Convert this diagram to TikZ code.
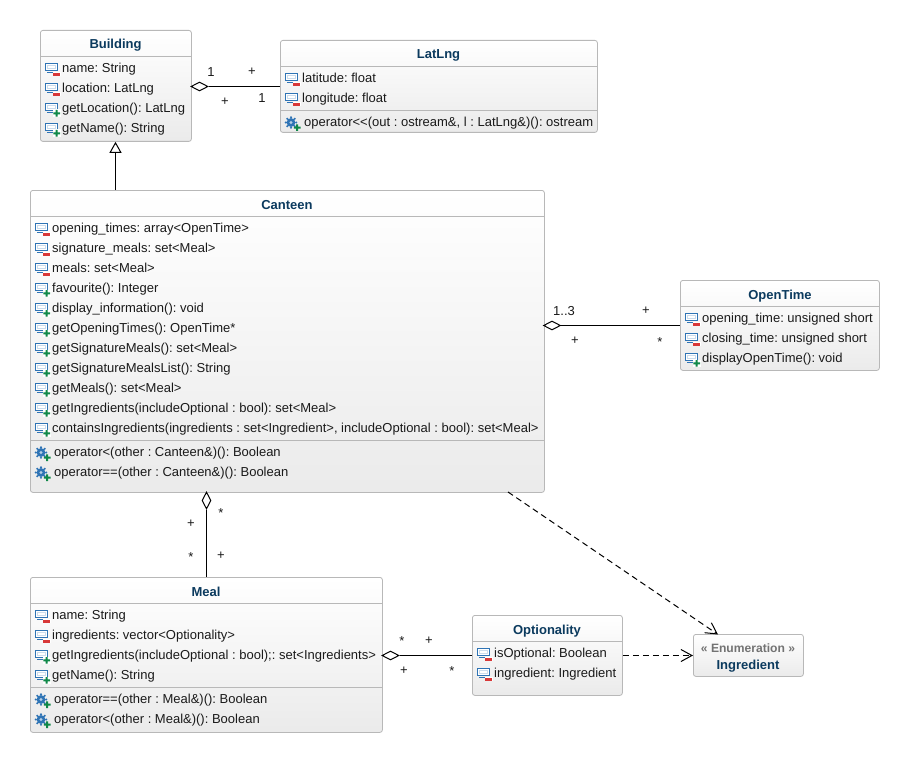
\documentclass[tikz,border=0pt]{standalone}
\usepackage{fontspec}
\setmainfont{Liberation Sans}
\frenchspacing
\usetikzlibrary{arrows.meta,shapes.geometric}
\definecolor{titlec}{HTML}{0B3A5E}
\definecolor{edgec}{HTML}{B8B8B8}
\definecolor{iconb}{HTML}{2F74B5}
\definecolor{iconr}{HTML}{D83838}
\definecolor{icong}{HTML}{108848}
\definecolor{txtc}{HTML}{1A1A1A}
\tikzset{x=1pt,y=-1pt,
 umlbox/.style={draw=edgec,line width=0.8pt,rounded corners=2.5pt,top color=white,bottom color=black!8,shading angle=0},
 ttl/.style={font=\fontsize{13}{14}\selectfont\bfseries,text=titlec,inner sep=0pt,anchor=base},
 mem/.style={font=\fontsize{13}{14}\selectfont,text=txtc,inner sep=0pt,anchor=base west},
 mult/.style={font=\fontsize{13}{14}\selectfont,text=txtc,inner sep=0pt,anchor=center},
 conn/.style={draw=black,line width=1pt},
 sep/.style={draw=edgec,line width=0.8pt},
 dia/.style={diamond,draw=black,fill=white,line width=1pt,aspect=2,inner sep=0pt,minimum width=17pt,minimum height=9pt},
}
\newcommand{\fld}[2]{%
 \begin{scope}[shift={(#1,#2)}]
 \draw[iconb,fill=white,line width=1pt] (-5.5,-4.5) rectangle (6,2.8);
 \draw[iconb!25,line width=0.7pt] (-3.5,-2.5) rectangle (4,0.8);
 \draw[iconb,line width=1pt] (-4,4.6)--(2.5,4.6);
 \end{scope}}
\newcommand{\minusmk}[2]{\fill[white] (#1+1.5,#2+4.2) rectangle (#1+9.5,#2+8.2);\fill[iconr] (#1+2,#2+4.8) rectangle (#1+9,#2+7.6);}
\newcommand{\plusmk}[2]{\fill[white] (#1+1.5,#2+1.5) rectangle (#1+9.5,#2+9.2);\fill[icong] (#1+2.3,#2+4.3) rectangle (#1+9,#2+6.3) (#1+4.65,#2+2) rectangle (#1+6.65,#2+8.7);}
\newcommand{\priv}[2]{\fld{#1}{#2}\minusmk{#1}{#2}}
\newcommand{\publ}[2]{\fld{#1}{#2}\plusmk{#1}{#2}}
\newcommand{\gearic}[2]{%
 \foreach \a in {0,45,...,315}{\fill[iconb] (#1-1,#2+0.5) ++(\a:5.2) circle (1.2);}
 \fill[iconb] (#1-1,#2+0.5) circle (4.4);
 \fill[iconb!35] (#1-1,#2+0.5) circle (1.6);
 \fill[icong] (#1+1.8,#2+4.6) rectangle (#1+8.5,#2+6.6) (#1+4.15,#2+2.3) rectangle (#1+6.15,#2+9);}
\begin{document}
\begin{tikzpicture}
\useasboundingbox (0,0) rectangle (909,762);
\fill[white] (0,0) rectangle (909,762);
% Boxes
\node[umlbox,minimum width=151pt,minimum height=111pt,inner sep=0pt,anchor=north west] (building) at (40,30) {};
\node[umlbox,minimum width=317pt,minimum height=92pt,inner sep=0pt,anchor=north west] (latlng) at (280,40) {};
\node[umlbox,minimum width=514pt,minimum height=302pt,inner sep=0pt,anchor=north west] (canteen) at (30,190) {};
\node[umlbox,minimum width=199pt,minimum height=90pt,inner sep=0pt,anchor=north west] (opentime) at (680,280) {};
\node[umlbox,minimum width=352pt,minimum height=155pt,inner sep=0pt,anchor=north west] (meal) at (30,577) {};
\node[umlbox,minimum width=150pt,minimum height=80pt,inner sep=0pt,anchor=north west] (optionality) at (472,615) {};
\node[umlbox,minimum width=110pt,minimum height=42pt,inner sep=0pt,anchor=north west] (ingredient) at (693,634) {};
% Separators
\draw[sep] (building.west |- 0,56) -- (building.east |- 0,56);
\draw[sep] (latlng.west |- 0,66) -- (latlng.east |- 0,66) (latlng.west |- 0,110) -- (latlng.east |- 0,110);
\draw[sep] (canteen.west |- 0,216) -- (canteen.east |- 0,216) (canteen.west |- 0,440) -- (canteen.east |- 0,440);
\draw[sep] (opentime.west |- 0,306) -- (opentime.east |- 0,306);
\draw[sep] (meal.west |- 0,603) -- (meal.east |- 0,603) (meal.west |- 0,687) -- (meal.east |- 0,687);
\draw[sep] (optionality.west |- 0,641) -- (optionality.east |- 0,641);
% Titles
\node[ttl] (tb) at (115.5,49) {Building};
\node[ttl] (tl) at (438.5,59) {LatLng};
\node[ttl] (tc) at (287,209) {Canteen};
\node[ttl] (to) at (780,299) {OpenTime};
\node[ttl] (tm) at (206,596) {Meal};
\node[ttl] (tp) at (547,634) {Optionality};
\node[font=\fontsize{12.1}{14}\selectfont\bfseries,text=black!55,inner sep=0pt,anchor=base] (te) at (748,652.5) {« Enumeration »};
\node[ttl] (ti) at (748,669) {Ingredient};
% Building
\priv{51}{68}\node[mem] (b1) at (62,72.5) {name: String};
\priv{51}{88}\node[mem] (b2) at (62,92.5) {location: LatLng};
\publ{51}{108}\node[mem] (b3) at (62,112.5) {getLocation(): LatLng};
\publ{51}{128}\node[mem] (b4) at (62,132.5) {getName(): String};
% LatLng
\priv{291}{78}\node[mem] (l1) at (302,82.5) {latitude: float};
\priv{291}{98}\node[mem] (l2) at (302,102.5) {longitude: float};
\gearic{292}{122}\node[mem] (l3) at (304,126.5) {operator<{}<(out : ostream\&, l : LatLng\&)(): ostream};
% Canteen
\priv{41}{228}\node[mem] (c1) at (52,232.5) {opening\_times: array<OpenTime>};
\priv{41}{248}\node[mem] (c2) at (52,252.5) {signature\_meals: set<Meal>};
\priv{41}{268}\node[mem] (c3) at (52,272.5) {meals: set<Meal>};
\publ{41}{288}\node[mem] (c4) at (52,292.5) {favourite(): Integer};
\publ{41}{308}\node[mem] (c5) at (52,312.5) {display\_information(): void};
\publ{41}{328}\node[mem] (c6) at (52,332.5) {getOpeningTimes(): OpenTime*};
\publ{41}{348}\node[mem] (c7) at (52,352.5) {getSignatureMeals(): set<Meal>};
\publ{41}{368}\node[mem] (c8) at (52,372.5) {getSignatureMealsList(): String};
\publ{41}{388}\node[mem] (c9) at (52,392.5) {getMeals(): set<Meal>};
\publ{41}{408}\node[mem] (c10) at (52,412.5) {getIngredients(includeOptional : bool): set<Meal>};
\publ{41}{428}\node[mem] (c11) at (52,432.5) {containsIngredients(ingredients : set<Ingredient>, includeOptional : bool): set<Meal>};
\gearic{42}{452}\node[mem] (c12) at (54,456.5) {operator<(other : Canteen\&)(): Boolean};
\gearic{42}{472}\node[mem] (c13) at (54,476.5) {operator==(other : Canteen\&)(): Boolean};
% OpenTime
\priv{691}{318}\node[mem] (o1) at (702,322.5) {opening\_time: unsigned short};
\priv{691}{338}\node[mem] (o2) at (702,342.5) {closing\_time: unsigned short};
\publ{691}{358}\node[mem] (o3) at (702,362.5) {displayOpenTime(): void};
% Meal
\priv{41}{615}\node[mem] (m1) at (52,619.5) {name: String};
\priv{41}{635}\node[mem] (m2) at (52,639.5) {ingredients: vector<Optionality>};
\publ{41}{655}\node[mem] (m3) at (52,659.5) {getIngredients(includeOptional : bool);: set<Ingredients>};
\publ{41}{675}\node[mem] (m4) at (52,679.5) {getName(): String};
\gearic{42}{699}\node[mem] (m5) at (54,703.5) {operator==(other : Meal\&)(): Boolean};
\gearic{42}{719}\node[mem] (m6) at (54,723.5) {operator<(other : Meal\&)(): Boolean};
% Optionality
\priv{483}{653}\node[mem] (p1) at (494,657.5) {isOptional: Boolean};
\priv{483}{673}\node[mem] (p2) at (494,677.5) {ingredient: Ingredient};
% Connectors
\node[dia] (d1) at (199.5,86.5) {};
\draw[conn] (d1.east) -- (latlng.west |- d1.east);
\node[mult] (a1) at (211,72) {1};
\node[mult] (a2) at (252,72) {+};
\node[mult] (a3) at (225,102) {+};
\node[mult] (a4) at (262,98) {1};
\draw[conn,-{Triangle[open,fill=white,length=11pt,width=12pt]}] (canteen.north -| tb) -- (building.south -| tb);
\node[dia] (d2) at (552,325.5) {};
\draw[conn] (d2.east) -- (opentime.west |- d2.east);
\node[mult] (a5) at (564,311) {1..3};
\node[mult] (a6) at (646,311) {+};
\node[mult] (a7) at (575,341) {+};
\node[mult] (a8) at (660,342.5) {*};
\node[dia,minimum width=9pt,minimum height=17pt,aspect=0.5] (d3) at (206.5,500.5) {};
\draw[conn] (d3.south) -- (meal.north -| d3.south);
\node[mult] (a9) at (191,524) {+};
\node[mult] (a10) at (221,513.5) {*};
\node[mult] (a11) at (191,557.5) {*};
\node[mult] (a12) at (221,556) {+};
\node[dia] (d4) at (390.5,655.5) {};
\draw[conn] (d4.east) -- (optionality.west |- d4.east);
\node[mult] (a13) at (402,641.5) {*};
\node[mult] (a14) at (429,641) {+};
\node[mult] (a15) at (404,671) {+};
\node[mult] (a16) at (452,671.5) {*};
\draw[conn,dash pattern=on 6pt off 4pt,-{Straight Barb[length=11pt,width=12pt]}] (optionality.east |- d4.east) -- (ingredient.west |- d4.east);
\coordinate (cs) at (508,492);
\coordinate (it) at (718,634.5);
\draw[conn,dash pattern=on 6pt off 4pt,-{Straight Barb[length=11pt,width=12pt]}] (cs) -- (it);
\end{tikzpicture}
\end{document}
